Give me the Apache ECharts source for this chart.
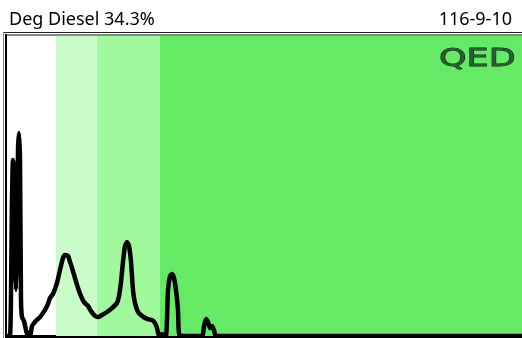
<!DOCTYPE html>
<html><head><meta charset="utf-8">
<script src="https://cdn.jsdelivr.net/npm/echarts@6/dist/echarts.min.js"></script>
<style>html,body{margin:0;padding:0;background:#fff}#c{width:522px;height:338px}</style>
</head><body><div id="c"></div>
<script>
const titleText = 'Deg Diesel 34.3%';
const idText = '116-9-10';
const logoText = 'QED';
const xs = [0,3,5,6,7,8,9,10,11,12,13,14,15,17,19,21,23,25,28,33,38,41,43,46,50,53,56,58,61,63,65,68,71,74,77,81,84,88,91,95,100,105,110,112,114,116,118,120,122,124,126,128,131,135,140,145,148,150,152,155,157,159,161,163,165,167,169,171,173,195,197,199,201,203,205,207,209,515];
const ys = [0,0,45.3,58.7,55.3,25.3,15.3,28.7,62,67.7,58.7,12,6.3,5,2,0,0,3.3,4.7,6.3,8.7,10.7,12.7,14,17.7,22,26,27,26.7,24.7,22.7,19.3,16,13.3,11.3,10,8.3,6.7,6.3,7,8,9.3,11,13.3,18,24.7,30,31.3,30,24.7,15.3,11,8,6.7,5.7,5.3,4.3,2.7,0,0.7,0,0,15.3,20,20.7,19.3,15.3,8.7,0,0,3.3,5.7,4.7,2.7,3.3,2,0,0];
const bandEdges = [49, 90, 153, 515];
const bandColors = ['#c9fcc9', '#a0f99c', '#64ea64'];
const xMax = 515, yMax = 100;

const bands = [];
for (let i = 0; i < bandColors.length; i++) {
  bands.push([{xAxis: bandEdges[i], itemStyle: {color: bandColors[i]}}, {xAxis: bandEdges[i+1]}]);
}
const chart = echarts.init(document.getElementById('c'), null, {renderer: 'canvas'});
chart.setOption({
  animation: false,
  grid: {left: 7, right: 0, top: 36, bottom: 2},
  xAxis: {type: 'value', min: 0, max: xMax, axisLine: {show: true, onZero: false, lineStyle: {color: '#000', width: 3}},
    axisTick: {show: false}, axisLabel: {show: false}, splitLine: {show: false}},
  yAxis: {type: 'value', min: 0, max: yMax, axisLine: {show: false}, axisTick: {show: false}, axisLabel: {show: false}, splitLine: {show: false}},
  graphic: [
    {type: 'text', left: 9, top: 11, style: {text: titleText, font: '18px "Noto Sans"', fill: '#000'}},
    {type: 'text', right: 10, top: 11, style: {text: idText, font: '18px "Noto Sans"', fill: '#000'}},
    {type: 'text', x: 439, y: 47, scaleX: 1.4, style: {text: logoText, font: '25px "DejaVu Sans"', fill: '#2f5a36', stroke: '#0a1f0e', lineWidth: 0.8}, z: 10},
    {type: 'rect', shape: {x: 4, y: 32, width: 518, height: 1}, style: {fill: '#222'}, z: 10},
    {type: 'rect', shape: {x: 6, y: 34, width: 516, height: 2}, style: {fill: '#888'}, z: 10},
    {type: 'rect', shape: {x: 3, y: 32, width: 1, height: 306}, style: {fill: '#888'}, z: 10},
    {type: 'rect', shape: {x: 5, y: 34, width: 2, height: 304}, style: {fill: '#000'}, z: 10}
  ],
  series: [{
    type: 'line', data: xs.map((x, i) => [x, ys[i]]), showSymbol: false, smooth: 0.2,
    lineStyle: {color: '#000', width: 4.5, join: 'round', cap: 'round'}, clip: false,
    markArea: {silent: true, data: bands}
  }]
});
</script></body></html>
